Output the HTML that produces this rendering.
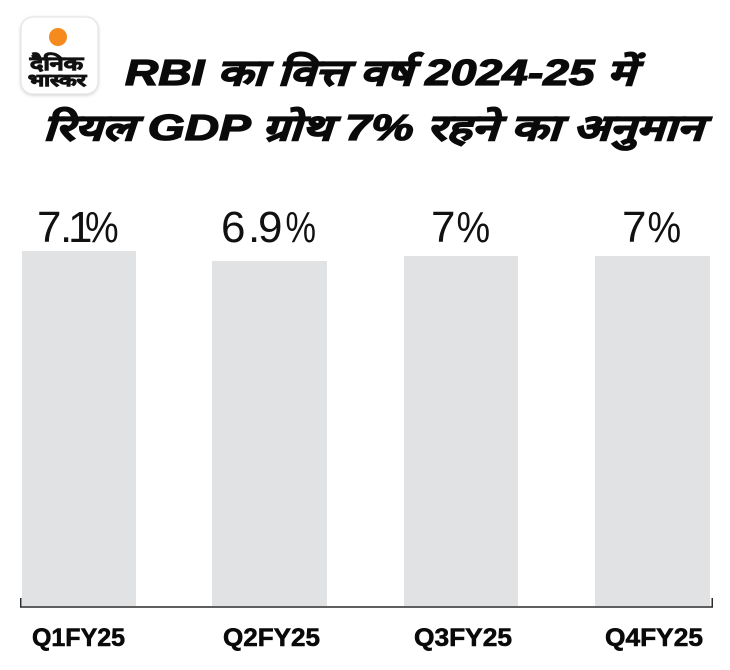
<!DOCTYPE html>
<html>
<head>
<meta charset="utf-8">
<style>
  html,body{margin:0;padding:0;background:#fff;}
  body{width:730px;height:670px;overflow:hidden;}
  svg{display:block;}
  .t{font-family:"Liberation Sans","DejaVu Sans",sans-serif;}
</style>
</head>
<body>
<svg width="730" height="670" viewBox="0 0 730 670" xmlns="http://www.w3.org/2000/svg">
  <defs>
    <filter id="sh" x="-20%" y="-20%" width="140%" height="140%">
      <feDropShadow dx="0" dy="1" stdDeviation="1.5" flood-color="#000" flood-opacity="0.18"/>
    </filter>
  </defs>
  <rect width="730" height="670" fill="#fff"/>

  <!-- Logo -->
  <rect x="21" y="17" width="77" height="77" rx="12" ry="12" fill="#fff" stroke="#e2e2e2" stroke-width="1" filter="url(#sh)"/>
  <circle cx="58" cy="37" r="9" fill="#f58a1f"/>
  <text class="t" x="30" y="70" font-size="19" font-weight="bold" fill="#111" stroke="#111" stroke-width="0.9" textLength="53" lengthAdjust="spacingAndGlyphs">दैनिक</text>
  <text class="t" x="28" y="86" font-size="17" font-weight="bold" fill="#111" stroke="#111" stroke-width="0.9" textLength="58" lengthAdjust="spacingAndGlyphs">भास्कर</text>

  <!-- Title -->
  <text class="t" x="125" y="85" font-size="36" font-weight="bold" font-style="italic" fill="#0a0a0a" stroke="#0a0a0a" stroke-width="1.3" textLength="510" lengthAdjust="spacingAndGlyphs">RBI का वित्त वर्ष 2024-25 में</text>
  <text class="t" x="43" y="140" font-size="36" font-weight="bold" font-style="italic" fill="#0a0a0a" stroke="#0a0a0a" stroke-width="1.3" textLength="660" lengthAdjust="spacingAndGlyphs">रियल GDP ग्रोथ 7% रहने का अनुमान</text>

  <!-- Bars -->
  <rect x="22" y="251" width="114" height="355" fill="#e1e2e4"/>
  <rect x="212" y="261" width="115" height="345" fill="#e1e2e4"/>
  <rect x="404" y="256" width="114" height="350" fill="#e1e2e4"/>
  <rect x="595" y="256" width="115" height="350" fill="#e1e2e4"/>

  <!-- Value labels -->
  <g class="t" font-size="44" fill="#111">
    <text x="37 60 68" y="242">7.1</text>
    <text transform="translate(85,242) scale(0.86,1)" x="0" y="0">%</text>

    <text x="221 248 258" y="242">6.9</text>
    <text transform="translate(285.5,242) scale(0.78,1)" x="0" y="0">%</text>

    <text x="431" y="242">7</text>
    <text transform="translate(456.5,242) scale(0.86,1)" x="0" y="0">%</text>

    <text x="622" y="242">7</text>
    <text transform="translate(647.5,242) scale(0.86,1)" x="0" y="0">%</text>
  </g>

  <!-- Axis -->
  <path d="M20.75 598 V607 H712.25 V598" fill="none" stroke="#2a2a2a" stroke-width="1.5"/>

  <!-- Category labels -->
  <text class="t" x="32" y="646" font-size="25" font-weight="bold" fill="#0a0a0a" stroke="#0a0a0a" stroke-width="0.6" textLength="93" lengthAdjust="spacingAndGlyphs">Q1FY25</text>
  <text class="t" x="223" y="646" font-size="25" font-weight="bold" fill="#0a0a0a" stroke="#0a0a0a" stroke-width="0.6" textLength="97" lengthAdjust="spacingAndGlyphs">Q2FY25</text>
  <text class="t" x="414" y="646" font-size="25" font-weight="bold" fill="#0a0a0a" stroke="#0a0a0a" stroke-width="0.6" textLength="98" lengthAdjust="spacingAndGlyphs">Q3FY25</text>
  <text class="t" x="605" y="646" font-size="25" font-weight="bold" fill="#0a0a0a" stroke="#0a0a0a" stroke-width="0.6" textLength="98" lengthAdjust="spacingAndGlyphs">Q4FY25</text>
</svg>
</body>
</html>
